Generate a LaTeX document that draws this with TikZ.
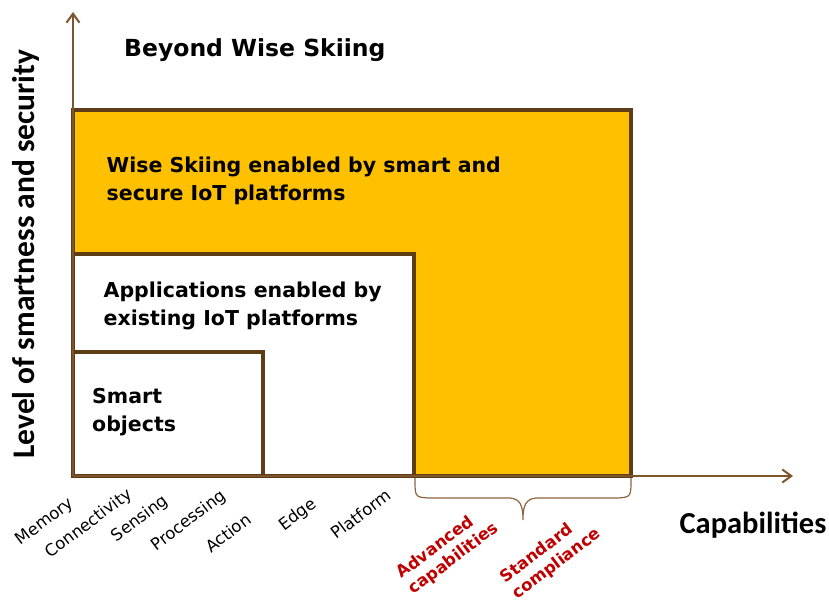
\documentclass[tikz,border=0pt]{standalone}
\usepackage{fontspec}
\setmainfont{DejaVu Sans}
\newfontfamily\calibri{Carlito}
\usetikzlibrary{arrows.meta}
\definecolor{orangefill}{RGB}{255,192,0}
\definecolor{boxbrown}{RGB}{94,60,22}
\definecolor{axisbrown}{RGB}{125,85,45}
\definecolor{bracebrown}{RGB}{140,100,60}
\definecolor{labelred}{RGB}{192,0,0}
\begin{document}
\begin{tikzpicture}[x=1pt,y=-1pt,
  box/.style={draw=boxbrown,line width=3.2pt},
  axisline/.style={draw=axisbrown,line width=2pt,-{Straight Barb[length=9pt,width=13pt,line width=2pt]}},
  boxtext/.style={anchor=base west,inner sep=0pt,align=left,font=\bfseries\fontsize{20.5}{28}\selectfont},
  caplabel/.style={rotate=37,inner sep=0pt,font=\fontsize{16.5}{19}\selectfont},
  redcaplabel/.style={rotate=37,inner sep=0pt,align=left,text=labelred,font=\bfseries\fontsize{16.5}{20}\selectfont},
  bigaxis/.style={inner sep=0pt,font=\calibri\bfseries\fontsize{31.5}{34}\selectfont}
]
\useasboundingbox (0,0) rectangle (829,601);
% axes
\coordinate (O) at (73,476);
\coordinate (Ytip) at (73,12);
\coordinate (Xtip) at (793,476);
% boxes
\draw[box,fill=orangefill] (73,110) rectangle (631,476);
\draw[box,fill=white] (73,254) rectangle (414,476);
\draw[box,fill=white] (73,352) rectangle (263,476);
\draw[axisline] (O) -- (Ytip);
\draw[axisline] (O) -- (Xtip);
% brace
\draw[bracebrown,line width=1.2pt]
  (415,478) .. controls (415,497) .. (428,498) -- (510,498)
  .. controls (520,499) and (523,505) .. (523,520)
  .. controls (523,505) and (526,499) .. (536,498) -- (618,498)
  .. controls (631,497) .. (631,478);
% texts
\node[anchor=base west,inner sep=0pt,font=\bfseries\fontsize{23.5}{28}\selectfont] (title) at (124,57) {Beyond Wise Skiing};
\node[boxtext] (wise) at (106.5,200.5) {Wise Skiing enabled by smart and\\secure IoT platforms};
\node[boxtext] (apps) at (103.5,325) {Applications enabled by\\existing IoT platforms};
\node[boxtext] (smart) at (92,431) {Smart\\objects};
\node[bigaxis,rotate=90] (ylab) at (26,254) {Level of smartness and security};
\node[bigaxis,anchor=base,font=\calibri\bfseries\fontsize{30.5}{34}\selectfont] (xlab) at (753,533) {Capabilities};
% capability labels
\node[caplabel] (mem) at (45,522) {Memory};
\node[caplabel] (con) at (89,524) {Connectivity};
\node[caplabel] (sen) at (140,519) {Sensing};
\node[caplabel] (pro) at (189,521) {Processing};
\node[caplabel] (act) at (228,533) {Action};
\node[caplabel] (edg) at (298,515) {Edge};
\node[caplabel] (pla) at (361,514) {Platform};
\node[redcaplabel] (adv) at (448,551) {Advanced\\capabilities};
\node[redcaplabel] (std) at (551,556) {Standard\\compliance};
\end{tikzpicture}
\end{document}
